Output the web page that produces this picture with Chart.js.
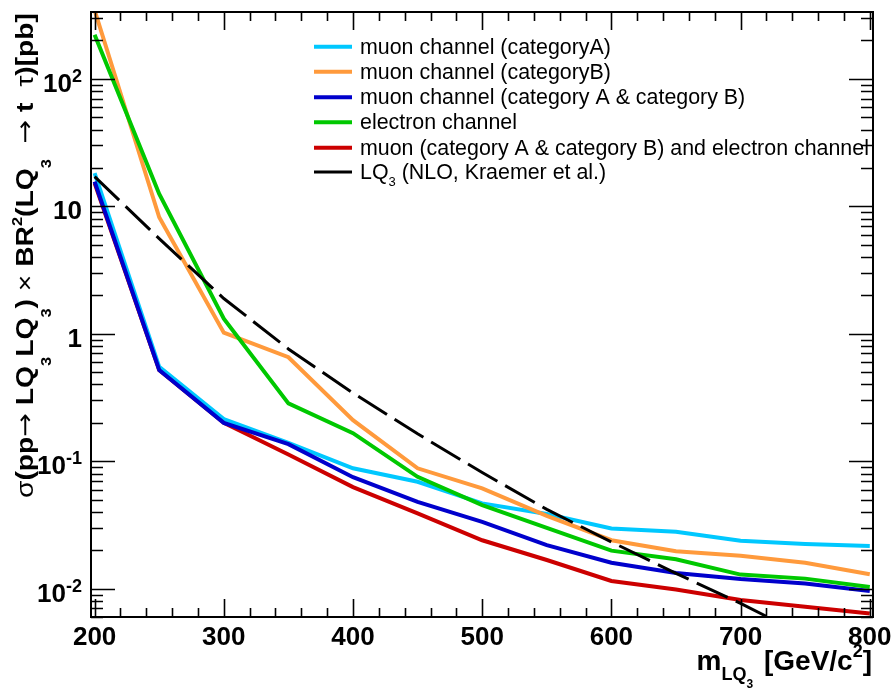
<!DOCTYPE html>
<html>
<head>
<meta charset="utf-8">
<script src="https://cdn.jsdelivr.net/npm/chart.js@4.4.0/dist/chart.umd.min.js"></script>
<style>
  html, body { margin: 0; padding: 0; background: #fff; }
  #wrap { width: 896px; height: 689px; }
</style>
</head>
<body>
<div id="wrap"><canvas id="limitChart" width="896" height="689"></canvas></div>
<script>
// LQ3 mass points [GeV/c^2]
const masses = [200, 250, 300, 350, 400, 450, 500, 550, 600, 650, 700, 750, 800];

// expected limits on sigma x BR^2 [pb]
const muonCatA = [18.2, 0.55, 0.214, 0.139, 0.088, 0.069, 0.0467, 0.0385, 0.0297, 0.028, 0.0238, 0.0224, 0.0216];
const muonCatB = [345, 8.2, 1.02, 0.654, 0.21, 0.088, 0.0612, 0.0373, 0.024, 0.0197, 0.0181, 0.016, 0.013];
const muonCatAB = [15.6, 0.52, 0.2, 0.136, 0.075, 0.048, 0.0335, 0.022, 0.016, 0.0133, 0.0119, 0.011, 0.0096];
const electronCh = [221, 12.5, 1.31, 0.284, 0.166, 0.0755, 0.0453, 0.030, 0.0199, 0.017, 0.0129, 0.012, 0.0103];
const combinedCh = [15.2, 0.52, 0.2, 0.113, 0.0627, 0.039, 0.024, 0.0168, 0.0115, 0.00986, 0.00815, 0.00722, 0.0064];
// NLO theory cross section
const theoryNLO = [17.1, 5.57, 1.89, 0.76, 0.343, 0.164, 0.0815, 0.0419, 0.0233, 0.0132, 0.00767, 0.00428, 0.0025];

const xMajorTicks = [200, 300, 400, 500, 600, 700, 800];
const yMajorTicks = [100, 10, 1, 0.1, 0.01];
const yTickLabels = [['10', '2'], ['10', ''], ['1', ''], ['10', '-1'], ['10', '-2']];

const FONT = '"Liberation Sans", Arial, Helvetica, sans-serif';

const setFont = (ctx, size, bold, family) => {
    ctx.font = `${bold ? 'bold' : 'normal'} ${size}px ${family || FONT}`;
};

// draws a run of text pieces (sub/superscripts via dy), returns total width
const drawRich = (ctx, parts, x, y, measureOnly = false) => {
    let cx = x;
    parts.forEach(p => {
        setFont(ctx, p.size, p.bold !== false, p.family);
        if (!measureOnly) ctx.fillText(p.t, cx, y + (p.dy || 0));
        cx += ctx.measureText(p.t).width + (p.gap || 0);
    });
    return cx - x;
};

const toPoints = vals => masses.map((m, i) => ({ x: m, y: vals[i] }));

const series = [
    { label: [{ t: 'muon channel (categoryA)' }], data: muonCatA, color: '#00c8ff', order: 4 },
    { label: [{ t: 'muon channel (categoryB)' }], data: muonCatB, color: '#ff9a3c', order: 3 },
    { label: [{ t: 'muon channel (category A & category B)' }], data: muonCatAB, color: '#0000cc', order: 2 },
    { label: [{ t: 'electron channel' }], data: electronCh, color: '#00c800', order: 1 },
    { label: [{ t: 'muon (category A & category B) and electron channel' }], data: combinedCh, color: '#cc0000', order: 5 },
    { label: [{ t: 'LQ' }, { t: '3', size: 13, dy: 7 }, { t: ' (NLO, Kraemer et al.)' }], data: theoryNLO, color: '#000000', order: 0, dash: [34, 9], width: 3 }
];

const datasets = series.map(s => ({
    label: s.label.map(p => p.t).join(''),
    data: toPoints(s.data),
    borderColor: s.color,
    backgroundColor: s.color,
    borderWidth: s.width || 4,
    borderDash: s.dash || [],
    pointRadius: 0,
    tension: 0,
    fill: false,
    clip: 0,
    order: s.order
}));

const ARROW_FONT = '"DejaVu Sans", sans-serif';

// frame, inward ticks on all four sides, tick labels, axis titles and legend
const framePlugin = {
    id: 'rootFrame',
    afterDraw(chart) {
        const { ctx, chartArea: a, scales } = chart;
        const xs = scales.x, ys = scales.y;
        ctx.save();
        ctx.strokeStyle = '#000';
        ctx.fillStyle = '#000';
        ctx.lineWidth = 2;
        ctx.strokeRect(a.left, a.top, a.right - a.left, a.bottom - a.top);

        ctx.lineWidth = 1.6;
        ctx.beginPath();
        // x ticks every 20 GeV, major every 100
        for (let m = 200; m <= 800; m += 20) {
            const px = Math.round(xs.getPixelForValue(m)) + 0.5;
            const len = m % 100 === 0 ? 18 : 9;
            ctx.moveTo(px, a.bottom); ctx.lineTo(px, a.bottom - len);
            ctx.moveTo(px, a.top); ctx.lineTo(px, a.top + len);
        }
        // log y ticks
        for (let e = -3; e <= 2; e++) {
            for (let k = 1; k <= 9; k++) {
                const v = k * Math.pow(10, e);
                if (v < ys.min || v > ys.max) continue;
                const py = Math.round(ys.getPixelForValue(v)) + 0.5;
                const len = k === 1 ? 24 : 12;
                ctx.moveTo(a.left, py); ctx.lineTo(a.left + len, py);
                ctx.moveTo(a.right, py); ctx.lineTo(a.right - len, py);
            }
        }
        ctx.stroke();

        // x tick labels
        setFont(ctx, 26, true);
        ctx.textAlign = 'center';
        ctx.textBaseline = 'alphabetic';
        xMajorTicks.forEach(m => {
            ctx.fillText(String(m), xs.getPixelForValue(m), 645);
        });

        // y tick labels, right aligned with superscript exponents
        ctx.textAlign = 'left';
        yMajorTicks.forEach((v, i) => {
            const [base, exp] = yTickLabels[i];
            const parts = [{ t: base, size: 26 }];
            if (exp) parts.push({ t: exp, size: 18, dy: -10 });
            const w = drawRich(ctx, parts, 0, 0, true);
            drawRich(ctx, parts, 82 - w, ys.getPixelForValue(v) + 13);
        });

        // x axis title
        const xTitle = [
            { t: 'm', size: 28 },
            { t: 'LQ', size: 18, dy: 10 },
            { t: '3', size: 12, dy: 18, gap: 3 },
            { t: ' [GeV/c', size: 28 },
            { t: '2', size: 18, dy: -13 },
            { t: ']', size: 28 }
        ];
        const xw = drawRich(ctx, xTitle, 0, 0, true);
        drawRich(ctx, xTitle, 872 - xw, 670);

        // y axis title, rotated and stretched along the axis
        const sub = { size: 14, dy: 18 };
        const yTitle = [
            { t: 'σ', size: 24, bold: false },
            { t: '(pp', size: 24 },
            { t: '→', size: 24, bold: false, family: ARROW_FONT },
            { t: ' LQ', size: 24 },
            { t: '3', ...sub },
            { t: 'LQ', size: 24 },
            { t: '3', ...sub },
            { t: ') ', size: 24 },
            { t: '×', size: 24, bold: false },
            { t: ' BR', size: 24 },
            { t: '2', size: 14, dy: -11 },
            { t: '(LQ', size: 24 },
            { t: '3', ...sub },
            { t: '  ', size: 24 },
            { t: '→', size: 24, bold: false, family: ARROW_FONT },
            { t: ' t  ', size: 24 },
            { t: 'τ', size: 24, bold: false },
            { t: ')[pb]', size: 24 }
        ];
        const yw = drawRich(ctx, yTitle, 0, 0, true);
        ctx.save();
        ctx.translate(33, 498);
        ctx.rotate(-Math.PI / 2);
        ctx.scale(485 / yw, 1);
        drawRich(ctx, yTitle, 0, 0);
        ctx.restore();

        // legend
        const rowY = [46.7, 71.7, 97.3, 122.3, 147.7, 172];
        series.forEach((s, i) => {
            const y = rowY[i];
            ctx.beginPath();
            ctx.strokeStyle = s.color;
            ctx.lineWidth = s.width || 4;
            ctx.setLineDash([]);
            ctx.moveTo(314, y); ctx.lineTo(352, y);
            ctx.stroke();
            const parts = s.label.map(p => ({ t: p.t, size: p.size || 21.4, dy: p.dy || 0, bold: false }));
            drawRich(ctx, parts, 360, y + 7);
        });
        ctx.restore();
    }
};

new Chart(document.getElementById('limitChart'), {
    type: 'line',
    data: { datasets },
    options: {
        responsive: false,
        animation: false,
        devicePixelRatio: 1,
        layout: { padding: { left: 91, top: 12, right: 23, bottom: 72 } },
        plugins: { legend: { display: false }, tooltip: { enabled: false } },
        scales: {
            x: {
                type: 'linear', min: 197.2, max: 802.5,
                ticks: { display: false },
                grid: { display: false, drawTicks: false },
                border: { display: false }
            },
            y: {
                type: 'logarithmic', min: 0.006, max: 334,
                ticks: { display: false },
                grid: { display: false, drawTicks: false },
                border: { display: false }
            }
        }
    },
    plugins: [framePlugin]
});
</script>
</body>
</html>
